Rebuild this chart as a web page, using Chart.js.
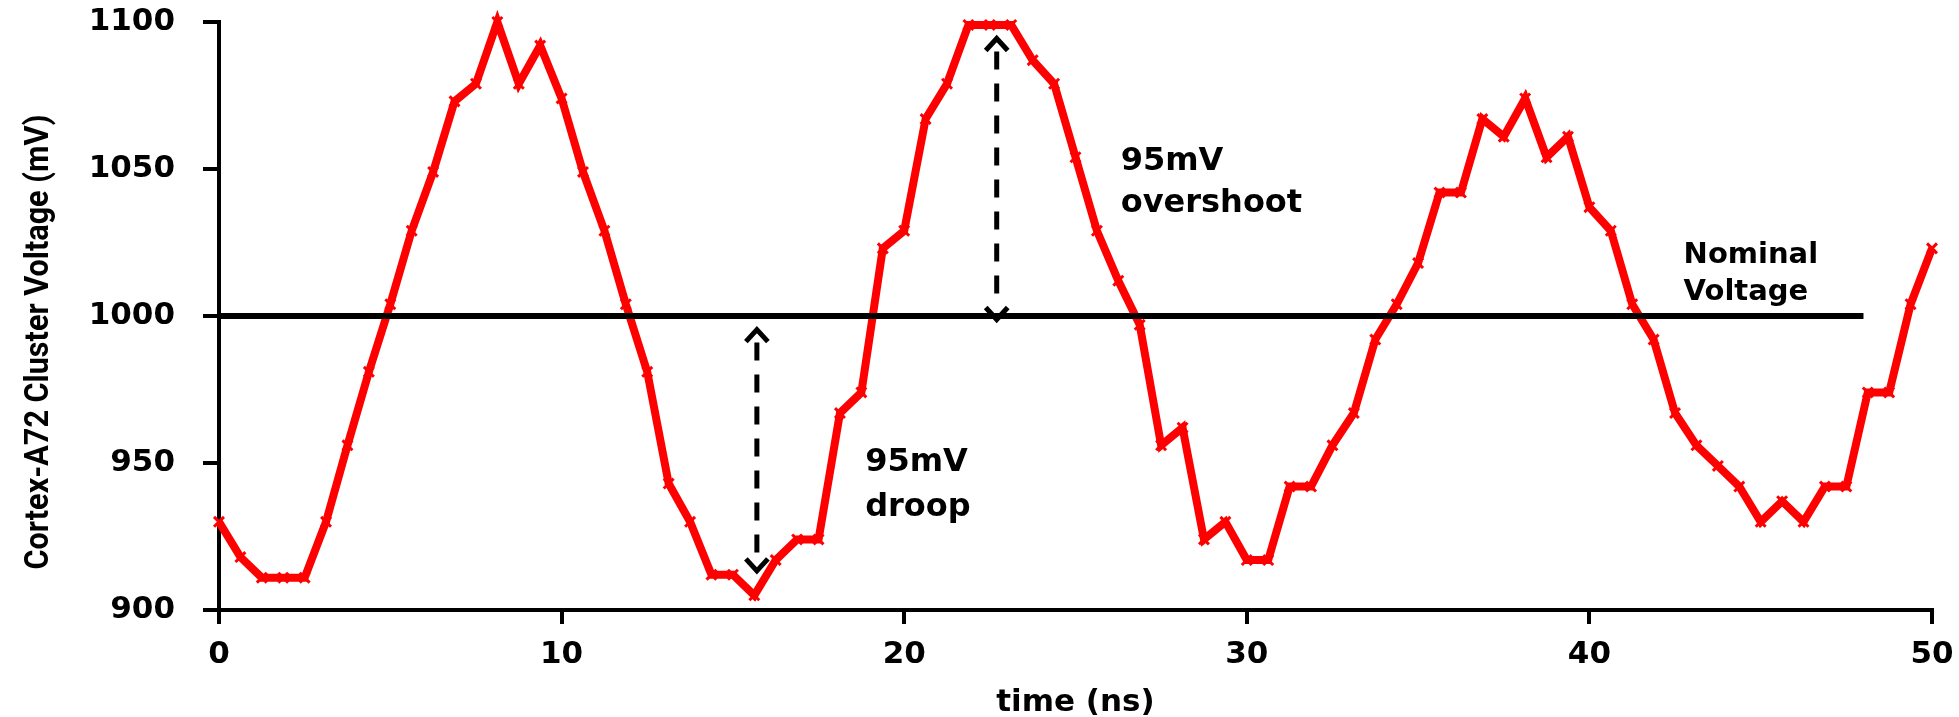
<!DOCTYPE html>
<html>
<head>
<meta charset="utf-8">
<script src="https://cdn.jsdelivr.net/npm/chart.js@4.4.1/dist/chart.umd.min.js"></script>
<style>
  html, body { margin: 0; padding: 0; background: #fff; }
  #wrap { width: 1959px; height: 717px; }
</style>
</head>
<body>
<div id="wrap"><canvas id="grafico" width="1959" height="717"></canvas></div>
<script>
// tempo de cada amostra (ns)
var timeNs = [
  0, 0.625, 1.25, 1.875, 2.5, 3.125, 3.75, 4.375, 5, 5.625,
  6.25, 6.875, 7.5, 8.125, 8.75, 9.375, 10, 10.625, 11.25, 11.875,
  12.5, 13.125, 13.75, 14.375, 15, 15.625, 16.25, 16.875, 17.5, 18.125,
  18.75, 19.375, 20, 20.625, 21.25, 21.875, 22.5, 23.125, 23.75, 24.375,
  25, 25.625, 26.25, 26.875, 27.5, 28.125, 28.75, 29.375, 30, 30.625,
  31.25, 31.875, 32.5, 33.125, 33.75, 34.375, 35, 35.625, 36.25, 36.875,
  37.5, 38.125, 38.75, 39.375, 40, 40.625, 41.25, 41.875, 42.5, 43.125,
  43.75, 44.375, 45, 45.625, 46.25, 46.875, 47.5, 48.125, 48.75, 49.375, 50
];

// tensão do cluster (mV)
var voltageMv = [
  930, 918, 911, 911, 911, 930, 956, 981, 1004, 1029,
  1049, 1073, 1079, 1100, 1079, 1092, 1074, 1049, 1029, 1004,
  981, 943, 930, 912, 912, 905, 917, 924, 924, 967,
  974, 1023, 1029, 1067, 1079, 1099, 1099, 1099, 1087, 1079,
  1054, 1029, 1012, 997, 956, 962, 924, 930, 917, 917,
  942, 942, 956, 967, 992, 1004, 1018, 1042, 1042, 1067,
  1061, 1074, 1054, 1061, 1037, 1029, 1004, 992, 967, 956,
  949, 942, 930, 937, 930, 942, 942, 974, 974, 1004, 1023
];

// linha da tensão nominal
var nominalX = [0, 48];
var nominalY = [1000, 1000];

// rótulos dos eixos
var xTicks = [0, 10, 20, 30, 40, 50];
var yTicks = [900, 950, 1000, 1050, 1100];

// setas tracejadas: [x, y de cima, y de baixo]
var droopArrow = [15.7, 996.4, 912.3];
var overshootArrow = [22.7, 1095.4, 997.8];

// textos de anotação: [texto, x, y, tamanho]
var notes = [
  ['95mV', 18.86, 947.2, 32],
  ['droop', 18.86, 931.9, 32],
  ['95mV', 26.32, 1049.7, 32],
  ['overshoot', 26.32, 1035.4, 32],
  ['Nominal', 42.75, 1018.1, 29],
  ['Voltage', 42.75, 1005.5, 29]
];

var tickFont = { family: 'DejaVu Sans', weight: 'bold', size: 31 };

// plugin para setas, textos e título do eixo y
var extras = {
  id: 'extras',
  afterDraw: function (chart) {
    var ctx = chart.ctx;
    var xs = chart.scales.x, ys = chart.scales.y;

    function arrow(a) {
      var x = xs.getPixelForValue(a[0]);
      var y1 = ys.getPixelForValue(a[1]);
      var y2 = ys.getPixelForValue(a[2]);
      ctx.save();
      ctx.strokeStyle = '#000';
      ctx.lineWidth = 5;
      ctx.setLineDash([18, 14]);
      ctx.beginPath();
      ctx.moveTo(x, y1 + 16);
      ctx.lineTo(x, y2 - 16);
      ctx.stroke();
      ctx.setLineDash([]);
      ctx.beginPath();
      ctx.moveTo(x - 11, y1 + 15);
      ctx.lineTo(x, y1 + 3);
      ctx.lineTo(x + 11, y1 + 15);
      ctx.moveTo(x - 11, y2 - 15);
      ctx.lineTo(x, y2 - 3);
      ctx.lineTo(x + 11, y2 - 15);
      ctx.stroke();
      ctx.restore();
    }
    arrow(droopArrow);
    arrow(overshootArrow);

    ctx.save();
    ctx.fillStyle = '#000';
    ctx.textBaseline = 'alphabetic';
    ctx.textAlign = 'left';
    notes.forEach(function (n) {
      ctx.font = 'bold ' + n[3] + 'px "DejaVu Sans"';
      ctx.fillText(n[0], xs.getPixelForValue(n[1]), ys.getPixelForValue(n[2]));
    });
    ctx.restore();

    // título do eixo y (fonte estreita)
    var titulo = 'Cortex-A72 Cluster Voltage (mV)';
    ctx.save();
    ctx.translate(39, 342);
    ctx.rotate(-Math.PI / 2);
    ctx.font = 'bold 34px Roboto';
    var w = ctx.measureText(titulo).width;
    ctx.scale(455 / w, 1);
    ctx.textAlign = 'center';
    ctx.textBaseline = 'middle';
    ctx.fillStyle = '#000';
    ctx.fillText(titulo, 0, 0);
    ctx.restore();
  }
};

var dados = {
  datasets: [{
    label: 'Nominal',
    data: nominalX.map(function (x, i) { return { x: x, y: nominalY[i] }; }),
    borderColor: '#000',
    borderWidth: 6,
    pointRadius: 0,
    clip: false
  }, {
    label: 'Cortex-A72',
    data: timeNs.map(function (t, i) { return { x: t, y: voltageMv[i] }; }),
    borderColor: '#ff0000',
    borderWidth: 8,
    pointStyle: 'crossRot',
    pointRadius: 7,
    pointBorderWidth: 3,
    pointBorderColor: '#ff0000',
    tension: 0,
    clip: false
  }]
};

function semMilhar(v) { return String(v); }

var options = {
  responsive: false,
  animation: false,
  layout: { padding: { top: 22, right: 27, left: 0, bottom: 0 } },
  plugins: { legend: { display: false }, tooltip: { enabled: false } },
  scales: {
    x: {
      type: 'linear',
      min: 0,
      max: 50,
      afterBuildTicks: function (s) { s.ticks = xTicks.map(function (v) { return { value: v }; }); },
      afterFit: function (s) { s.height = 107; s.paddingLeft = 0; s.paddingRight = 0; },
      grid: { drawOnChartArea: false, color: '#000', lineWidth: 4, tickLength: 14 },
      border: { color: '#000', width: 4 },
      ticks: { color: '#000', font: tickFont, padding: 12, maxRotation: 0, callback: semMilhar },
      title: { display: true, text: 'time (ns)', color: '#000', font: { family: 'DejaVu Sans', weight: 'bold', size: 31, lineHeight: 0.9 }, padding: { top: 0, bottom: 0 } }
    },
    y: {
      min: 900,
      max: 1100,
      afterBuildTicks: function (s) { s.ticks = yTicks.map(function (v) { return { value: v }; }); },
      afterFit: function (s) { s.width = 219; s.paddingTop = 0; s.paddingBottom = 0; },
      grid: { drawOnChartArea: false, color: '#000', lineWidth: 4, tickLength: 16 },
      border: { color: '#000', width: 4 },
      ticks: { color: '#000', font: tickFont, padding: 28, callback: semMilhar }
    }
  }
};

var ctx = document.querySelector('#grafico').getContext('2d');
var lineChart = new Chart(ctx, {
  type: 'line',
  data: dados,
  options: options,
  plugins: [extras]
});
</script>
</body>
</html>
